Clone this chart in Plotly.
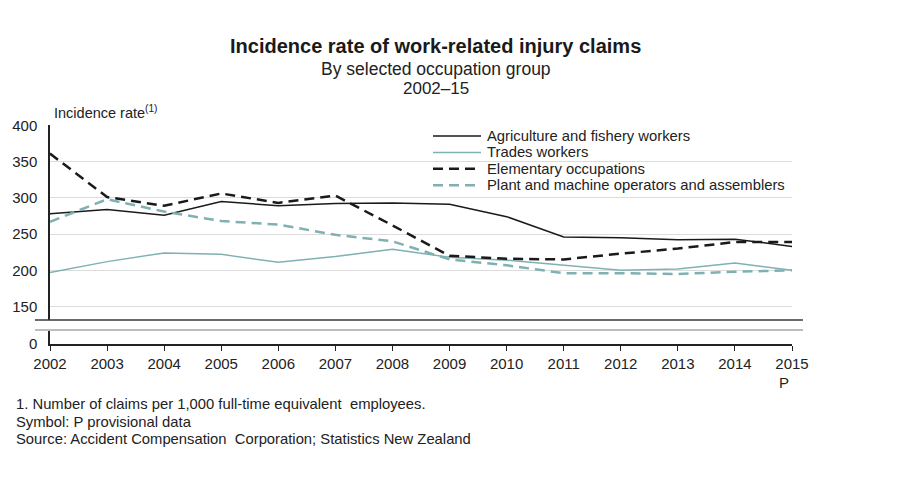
import plotly.graph_objects as go

# Incidence rate of work-related injury claims, 2002-15

years = list(range(2002, 2016))
year_labels = [str(y) for y in years]

agriculture = [278, 284, 276, 295, 289, 292, 293, 291, 274, 246, 245, 242, 243, 233]
trades = [197, 212, 224, 222, 211, 219, 229, 218, 214, 207, 200, 202, 210, 200]
elementary = [361, 301, 289, 306, 293, 303, 262, 220, 216, 215, 223, 230, 239, 239]
plant = [267, 298, 281, 268, 263, 249, 240, 215, 207, 196, 196, 195, 198, 200]

series_names = ['Agriculture and fishery workers', 'Trades workers',
                'Elementary occupations', 'Plant and machine operators and assemblers']

upper_ticks = [150, 200, 250, 300, 350, 400]
lower_ticks = [0]

W, H = 900, 480
FONT = 'Liberation Sans, Arial, sans-serif'
BLACK = '#1a1a1a'
TEAL = '#7fb1b3'
DASH = '10px,6px'

styles = [dict(color=BLACK, width=1.5),
          dict(color=TEAL, width=1.5),
          dict(color=BLACK, width=2.5, dash=DASH),
          dict(color=TEAL, width=2.5, dash=DASH)]


def px_x(p):
    return p / W


def px_y(p):
    return 1 - p / H


fig = go.Figure()

for name, values, style in zip(series_names, [agriculture, trades, elementary, plant], styles):
    fig.add_trace(go.Scatter(x=years, y=values, name=name, mode='lines', line=style,
                             showlegend=False))

# empty trace so the small lower axis (the 0 panel) gets drawn
fig.add_trace(go.Scatter(x=years[:1], y=lower_ticks, mode='none', showlegend=False,
                         hoverinfo='skip', xaxis='x', yaxis='y2'))

fig.update_layout(
    template='none',
    width=W, height=H,
    margin=dict(l=0, r=0, t=0, b=0, autoexpand=False),
    paper_bgcolor='white', plot_bgcolor='white',
    font=dict(family=FONT, size=15, color='#222222'),
    xaxis=dict(domain=[px_x(50), px_x(792)], range=[2002, 2015], anchor='y2',
               tickvals=years, ticktext=year_labels, showgrid=False, automargin=False,
               showline=True, linecolor='#222222', linewidth=1.5, zeroline=False,
               ticks='outside', ticklen=5, tickcolor='#222222', tickfont=dict(size=15)),
    yaxis=dict(domain=[px_y(320), px_y(125)], range=[131.5, 400.4], anchor='x',
               tickvals=upper_ticks, showgrid=True, gridcolor='#dcdcdc', gridwidth=1,
               showline=True, linecolor='#222222', linewidth=1.5, zeroline=False,
               automargin=False, ticks='', ticklabelstandoff=8, tickfont=dict(size=15)),
    yaxis2=dict(domain=[px_y(344), px_y(329)], range=[0, 20], anchor='x',
                tickvals=lower_ticks, showgrid=False, zeroline=False, automargin=False,
                showline=True, linecolor='#222222', linewidth=1.5,
                ticks='', ticklabelstandoff=8, tickfont=dict(size=15)),
)

# axis break lines
fig.add_shape(type='line', xref='paper', yref='paper', x0=px_x(35), x1=px_x(803),
              y0=px_y(320), y1=px_y(320), line=dict(color='#3a3a3a', width=1.3))
fig.add_shape(type='line', xref='paper', yref='paper', x0=px_x(35), x1=px_x(803),
              y0=px_y(330), y1=px_y(330), line=dict(color='#bdbdbd', width=2))

# legend, drawn by hand to get the tight row spacing of the original
for i, (name, style) in enumerate(zip(series_names, styles)):
    row_y = px_y(136 + 16.4 * i)
    fig.add_shape(type='line', xref='paper', yref='paper', x0=px_x(433), x1=px_x(481),
                  y0=row_y, y1=row_y, line=style)
    fig.add_annotation(text=name, x=px_x(485), y=row_y, xanchor='left', yanchor='middle',
                       xref='paper', yref='paper', showarrow=False,
                       font=dict(size=14.8, color='#222222'))

# titles and notes
fig.add_annotation(text='<b>Incidence rate of work-related injury claims</b>', x=px_x(435), y=px_y(46),
                   yanchor='middle', xref='paper', yref='paper', showarrow=False,
                   font=dict(size=20, color=BLACK))
fig.add_annotation(text='By selected occupation group', x=px_x(436), y=px_y(69), yanchor='middle',
                   xref='paper', yref='paper', showarrow=False, font=dict(size=17.5))
fig.add_annotation(text='2002–15', x=px_x(436), y=px_y(88), yanchor='middle',
                   xref='paper', yref='paper', showarrow=False, font=dict(size=17))
fig.add_annotation(text='Incidence rate<sup>(1)</sup>', x=px_x(52), y=px_y(112), xanchor='left',
                   yanchor='middle', xref='paper', yref='paper', showarrow=False, font=dict(size=14.5))
fig.add_annotation(text='P', x=px_x(791), y=px_y(382), yanchor='middle',
                   xref='paper', yref='paper', showarrow=False, font=dict(size=15))

notes = ['1. Number of claims per 1,000 full-time equivalent  employees.',
         'Symbol: P provisional data',
         'Source: Accident Compensation  Corporation; Statistics New Zealand']
for i, note in enumerate(notes):
    fig.add_annotation(text=note, x=px_x(14), y=px_y(404 + 17.5 * i), xanchor='left',
                       yanchor='middle', xref='paper', yref='paper', showarrow=False,
                       font=dict(size=14.8))

fig.write_html('out.html', config={'displayModeBar': False},
               post_script="document.body.style.margin='0';")
